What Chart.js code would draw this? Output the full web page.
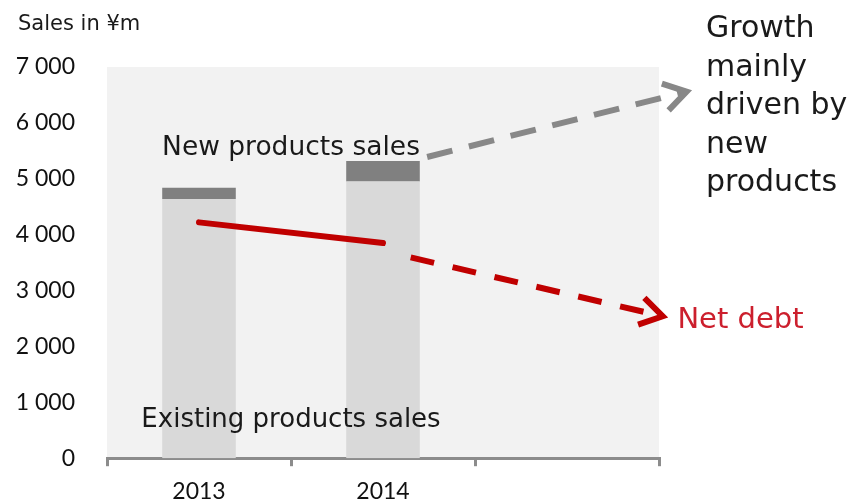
<!DOCTYPE html>
<html><head><meta charset="utf-8">
<script src="https://cdn.jsdelivr.net/npm/chart.js@4/dist/chart.umd.min.js"></script>
<style>html,body{margin:0;padding:0;background:#fff}#wrap{width:854px;height:504px}</style>
</head><body><div id="wrap"><canvas id="c" width="854" height="504"></canvas></div>
<script>
// ---- data ----
const categories = ['2013', '2014', ''];
const existingSales = [4640, 4950, null];
const newSales = [200, 370, null];
const yMin = 0, yMax = 7000, yStep = 1000;
// net debt: actual (solid) and trend (dashed), x in category-index units
const netDebtActualX = [0, 1];
const netDebtActual = [4220, 3850];
const netDebtTrendX = [1.05, 2.52];
const netDebtTrend = [3670, 2540];
// growth arrow (dashed grey)
const growthTrendX = [1.24, 2.65];
const growthTrend = [5390, 6560];

const yAxisTitle = 'Sales in ¥m';
const labelNew = 'New products sales';
const labelExisting = 'Existing products sales';
const labelNetDebt = 'Net debt';
const labelGrowth = ['Growth', 'mainly', 'driven by', 'new', 'products'];

const pts = (xs, ys) => xs.map((x, i) => ({x: x, y: ys[i]}));
const fmt = v => String(v).replace(/\B(?=(\d{3})+(?!\d))/g, ' ');

const bgPlugin = {
  id: 'bg',
  beforeDraw(chart) {
    const a = chart.chartArea, ctx = chart.ctx;
    ctx.save(); ctx.fillStyle = '#f2f2f2';
    ctx.fillRect(a.left, a.top, a.right - a.left, a.bottom - a.top);
    ctx.restore();
  }
};

const arrowPlugin = {
  id: 'arrows',
  afterDatasetsDraw(chart) {
    const ctx = chart.ctx;
    chart.data.datasets.forEach((ds, i) => {
      if (!ds.arrowHead) return;
      const d = chart.getDatasetMeta(i).data;
      const p1 = d[d.length - 2], p2 = d[d.length - 1];
      const ang = Math.atan2(p2.y - p1.y, p2.x - p1.x);
      const L = 26, h = 0.56;
      ctx.save();
      ctx.strokeStyle = ds.borderColor; ctx.lineWidth = 6;
      ctx.lineCap = 'butt'; ctx.lineJoin = 'miter';
      ctx.beginPath();
      ctx.moveTo(p2.x - L * Math.cos(ang - h), p2.y - L * Math.sin(ang - h));
      ctx.lineTo(p2.x, p2.y);
      ctx.lineTo(p2.x - L * Math.cos(ang + h), p2.y - L * Math.sin(ang + h));
      ctx.stroke();
      ctx.restore();
    });
  },
  afterDraw(chart) {
    const ctx = chart.ctx, x = chart.scales.xl, y = chart.scales.y;
    ctx.save();
    ctx.textBaseline = 'alphabetic';
    ctx.fillStyle = '#1a1a1a';
    ctx.font = '21px "DejaVu Sans"'; ctx.textAlign = 'left';
    ctx.fillText(yAxisTitle, 18, 30);
    ctx.font = '26.5px "DejaVu Sans"'; ctx.textAlign = 'center';
    ctx.fillText(labelNew, x.getPixelForValue(0.5), y.getPixelForValue(5430));
    ctx.font = '26px "DejaVu Sans"';
    ctx.fillText(labelExisting, x.getPixelForValue(0.5), y.getPixelForValue(565));
    ctx.textAlign = 'left';
    ctx.font = '29px "DejaVu Sans"'; ctx.fillStyle = '#cc1f2d';
    ctx.fillText(labelNetDebt, x.getPixelForValue(2.6), y.getPixelForValue(2330));
    ctx.font = '30px "DejaVu Sans"'; ctx.fillStyle = '#1a1a1a';
    const gx = chart.chartArea.right + 47;
    labelGrowth.forEach((t, k) => ctx.fillText(t, gx, 37 + k * 38.5));
    ctx.restore();
  }
};

new Chart(document.getElementById('c'), {
  data: {
    labels: categories,
    datasets: [
      {type: 'line', data: pts(netDebtActualX, netDebtActual), xAxisID: 'xl', yAxisID: 'y2',
       borderColor: '#c00000', borderWidth: 6, borderCapStyle: 'round', pointRadius: 0, clip: false, order: 0},
      {type: 'line', data: pts(netDebtTrendX, netDebtTrend), xAxisID: 'xl', yAxisID: 'y2',
       borderColor: '#c00000', borderWidth: 6, borderDash: [24, 19], borderDashOffset: 24, pointRadius: 0, clip: false, order: 0, arrowHead: true},
      {type: 'line', data: pts(growthTrendX, growthTrend), xAxisID: 'xl', yAxisID: 'y2',
       borderColor: '#888888', borderWidth: 6, borderDash: [26, 17], pointRadius: 0, clip: false, order: 0, arrowHead: true},
      {type: 'bar', label: 'Existing', data: existingSales, backgroundColor: '#d9d9d9', order: 1,
       stack: 'sales', grouped: false, barPercentage: 0.4, categoryPercentage: 1},
      {type: 'bar', label: 'New', data: newSales, backgroundColor: '#808080', order: 1,
       stack: 'sales', grouped: false, barPercentage: 0.4, categoryPercentage: 1}
    ]
  },
  options: {
    responsive: false, animation: false, devicePixelRatio: 1,
    layout: {padding: {top: 67, right: 195, left: 0, bottom: 0}},
    plugins: {legend: {display: false}, tooltip: {enabled: false}},
    scales: {
      x: {type: 'category', stacked: true, offset: true,
          grid: {display: true, offset: true, drawOnChartArea: false, drawTicks: true, tickLength: 8, color: '#8c8c8c', lineWidth: 3},
          border: {display: true, color: '#8c8c8c', width: 3},
          ticks: {color: '#111', font: {family: 'Lato', size: 23}, padding: 12, maxRotation: 0},
          afterFit: s => { s.height = 42; }},
      xl: {type: 'linear', min: -0.5, max: 2.5, display: false},
      y: {stacked: true, min: yMin, max: yMax,
          ticks: {stepSize: yStep, color: '#111', font: {family: 'Lato', size: 23}, padding: 32, callback: v => fmt(v)},
          grid: {display: false, drawTicks: false}, border: {display: false},
          afterFit: s => { s.width = 107; }},
      y2: {type: 'linear', min: yMin, max: yMax, display: false}
    }
  },
  plugins: [bgPlugin, arrowPlugin]
});
</script></body></html>
